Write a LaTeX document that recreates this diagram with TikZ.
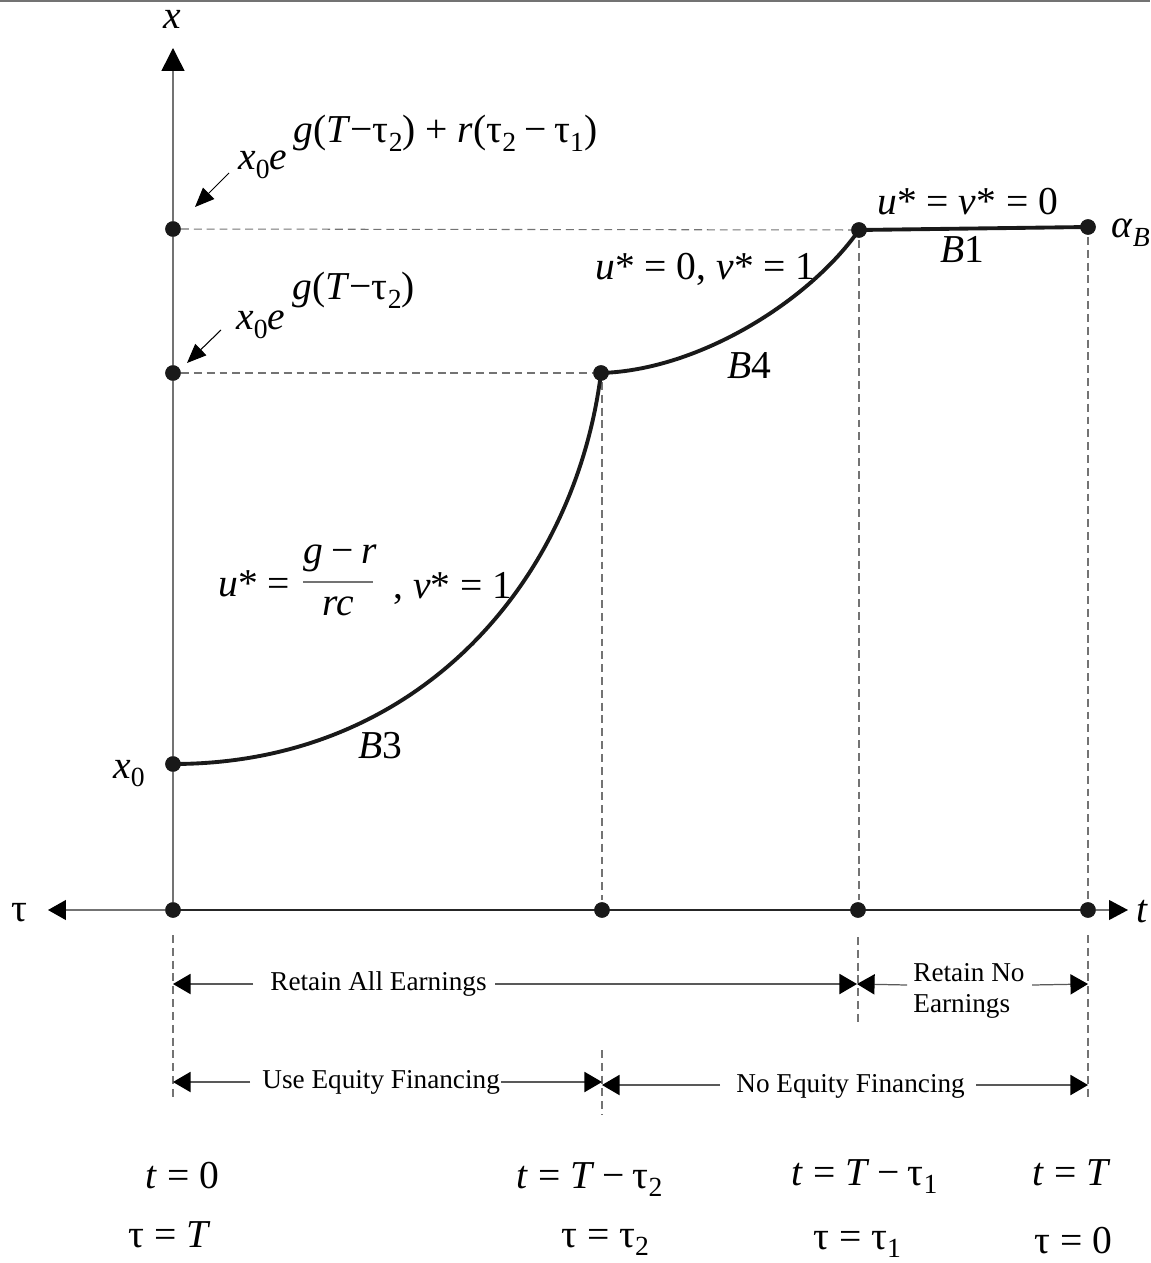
\documentclass[tikz,border=0pt]{standalone}
\usepackage{fontspec}
\setmainfont{Liberation Serif}
\usepackage{graphicx}
\usetikzlibrary{arrows.meta}
\newcommand{\vr}[1]{\textit{#1}}
\newcommand{\sbs}[1]{\raisebox{-0.22em}{\scalebox{0.7}{#1}}}
\newcommand{\ust}{\textit{u}*}
\newcommand{\vst}{\textit{v}*}
\newcommand{\mns}{\hspace{0.2em}−\hspace{0.2em}}
\begin{document}
\begin{tikzpicture}[x=0.02cm,y=-0.02cm]
\tikzset{
 mlab/.style={inner sep=0pt, font=\fontsize{22.5}{26}\selectfont, anchor=base west},
 tlab/.style={inner sep=0pt, font=\fontsize{15.5}{18.5}\selectfont, anchor=base west},
 dot/.style={circle, fill=black!90, inner sep=0pt, minimum size=8.8pt},
 axis/.style={draw=black!55, line width=0.85pt},
 guide/.style={draw=black!55, line width=0.6pt, dash pattern=on 4.5pt off 2.8pt},
 curve/.style={draw=black!90, line width=2.2pt},
 dim/.style={draw=black!65, line width=0.7pt},
 dimtip/.style={-{Triangle[length=10pt,width=11.5pt,color=black]}},
 ptr/.style={draw=black, line width=0.6pt, -{Triangle[length=11pt,width=9pt]}},
}
\useasboundingbox (0,0) rectangle (1150,1263);
% top rule
\draw[black!55, line width=1.1pt] (0,1) -- (1150,1);

% dots
\node[dot] (o)  at (173,910) {};
\node[dot] (a2) at (602,910) {};
\node[dot] (a1) at (858,910) {};
\node[dot] (a0) at (1088,910) {};
\node[dot] (yt) at (173,229) {};
\node[dot] (ym) at (173,373) {};
\node[dot] (yb) at (173,764) {};
\node[dot] (p2) at (601,373) {};
\node[dot] (p1) at (859,230) {};
\node[dot] (pB) at (1088,227) {};

% axis ends
\coordinate (xtip) at (173,48);
\coordinate (ltip) at (48,910);
\coordinate (rtip) at (1128,910);

% guides
\draw[guide] (yt) -- (p1);
\draw[guide] (ym) -- (p2);
\draw[guide] (602,382) -- (602,900);
\draw[guide] (859,240) -- (859,900);
\draw[guide] (1088,237) -- (1088,900);
\draw[guide] (173,935) -- (173,1100);
\draw[guide] (602,1050) -- (602,1115);
\draw[guide] (858,937) -- (858,1025);
\draw[guide] (1088,935) -- (1088,1100);

% axes
\draw[axis, -{Triangle[length=13pt,width=13pt,color=black]}] (o.center) -- (xtip);
\draw[axis, -{Triangle[length=10.2pt,width=11.3pt,color=black]}] (o.center) -- (ltip);
\draw[axis, -{Triangle[length=10.8pt,width=11.3pt,color=black]}] (a0.center) -- (rtip);
\draw[draw=black!85, line width=0.7pt] (o.center) -- (a0.center);

% curves
\draw[curve] (yb.center) .. controls (420,764) and (575,580) .. (p2.center);
\draw[curve] (p2.center) .. controls (700,370) and (810,300) .. (p1.center);
\draw[curve] (p1.center) -- (pB.center);

% redraw dots on top
\foreach \n in {o,a2,a1,a0,yt,ym,yb,p2,p1,pB} \fill[black!90] (\n) circle (4.4pt);

% pointers
\coordinate (q1s) at (229,173); \coordinate (q2s) at (221,330);
\draw[ptr] (q1s) -- (195,207);
\draw[ptr] (q2s) -- (187,363);

% labels
\node[mlab, anchor=base] (lx) at (172,29) {\vr{x}};
\node[mlab] (lx1) at (238,170) {\vr{x}\sbs{0}\vr{e}};
\node[mlab] (le1) at (293,143) {\vr{g}(\vr{T}−τ\sbs{2}) + \vr{r}(τ\sbs{2}\mns τ\sbs{1})};
\node[mlab] (lx2) at (236,330) {\vr{x}\sbs{0}\vr{e}};
\node[mlab] (le2) at (292,300) {\vr{g}(\vr{T}−τ\sbs{2})};
\node[mlab] (lb1) at (877,215) {\ust\ = \vst\ = 0};
\node[mlab] (nb1) at (940,263) {\vr{B}1};
\node[mlab] (alp) at (1111,238) {\vr{α}\sbs{\vr{B}}};
\node[mlab] (lb4) at (595,280) {\ust\ = 0, \vst\ = 1};
\node[mlab] (nb4) at (727,378) {\vr{B}4};
\node[mlab] (lu3) at (218,596) {\ust\ =};
\node[mlab] (fn) at (303,563) {\vr{g}\mns\vr{r}};
\node[mlab] (fd) at (322,615) {\vr{rc}};
\draw[black!55, line width=0.6pt] (303,582) -- (373,582);
\node[mlab] (lv3) at (393,598) {, \vst\ = 1};
\node[mlab] (nb3) at (358,758) {\vr{B}3};
\node[mlab] (lx0) at (113,778) {\vr{x}\sbs{0}};
\node[mlab] (ltau) at (11,921) {τ};
\node[mlab] (lt) at (1136,922) {\vr{t}};

% dimension lines row 1
\coordinate (k0a) at (173,984); \coordinate (k1a) at (857,984); \coordinate (k2a) at (1088,984);
\node[tlab] (ra) at (270,990) {Retain All Earnings};
\coordinate (raL) at (253,984); \coordinate (raR) at (495,984);
\draw[dim, dimtip] (raL) -- (k0a);
\draw[dim, dimtip] (raR) -- (k1a);
\node[tlab] (rn1) at (913,981) {Retain No};
\node[tlab] (rn2) at (913,1012) {Earnings};
\coordinate (rnL) at (907,985); \coordinate (rnR) at (1032,985);
\draw[dim, dimtip] (rnL) -- (k1a);
\draw[dim, dimtip] (rnR) -- (k2a);

% dimension lines row 2
\coordinate (k0b) at (173,1082); \coordinate (k1b) at (602,1082);
\coordinate (k1c) at (602,1085); \coordinate (k2c) at (1088,1085);
\node[tlab] (ue) at (262,1088) {Use Equity Financing};
\coordinate (ueL) at (250,1082); \coordinate (ueR) at (501,1082);
\draw[dim, dimtip] (ueL) -- (k0b);
\draw[dim, dimtip] (ueR) -- (k1b);
\node[tlab] (ne) at (736,1092) {No Equity Financing};
\coordinate (neL) at (720,1085); \coordinate (neR) at (976,1085);
\draw[dim, dimtip] (neL) -- (k1c);
\draw[dim, dimtip] (neR) -- (k2c);

% bottom labels
\node[mlab] (b1) at (145,1188) {\vr{t} = 0};
\node[mlab] (b2) at (128,1247) {τ = \vr{T}};
\node[mlab] (b3) at (516,1188) {\vr{t} = \vr{T}\mns τ\sbs{2}};
\node[mlab] (b4) at (561,1247) {τ = τ\sbs{2}};
\node[mlab] (b5) at (791,1185) {\vr{t} = \vr{T}\mns τ\sbs{1}};
\node[mlab] (b6) at (813,1249) {τ = τ\sbs{1}};
\node[mlab] (b7) at (1032,1185) {\vr{t} = \vr{T}};
\node[mlab] (b8) at (1034,1253) {τ = 0};
\end{tikzpicture}
\end{document}
